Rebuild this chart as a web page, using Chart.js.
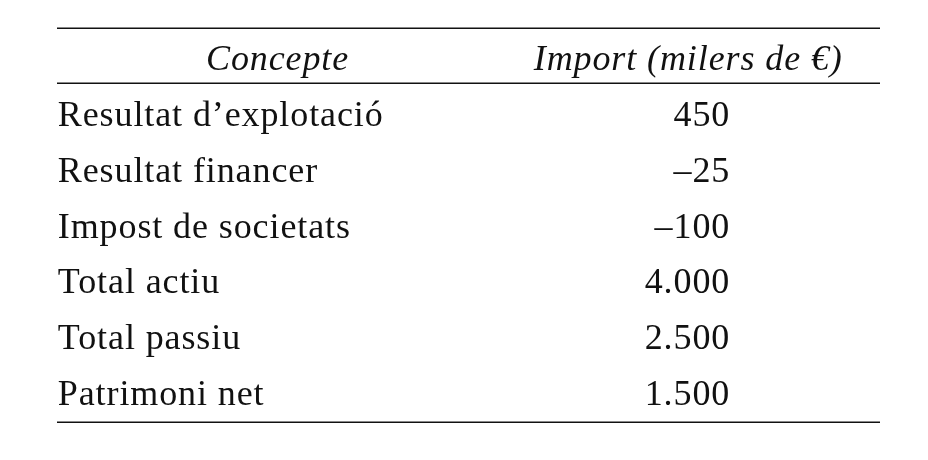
<!DOCTYPE html>
<html>
<head>
<meta charset="utf-8">
<script src="https://cdn.jsdelivr.net/npm/chart.js@4"></script>
<style>
  html, body { margin: 0; padding: 0; background: #fff; }
  #wrap { width: 928px; height: 460px; }
</style>
</head>
<body>
<div id="wrap"><canvas id="table" width="928" height="460"></canvas></div>
<script>
const headers = ['Concepte', 'Import (milers de €)'];
const concepts = [
  'Resultat d\u2019explotació',
  'Resultat financer',
  'Impost de societats',
  'Total actiu',
  'Total passiu',
  'Patrimoni net'
];
const amounts = [450, -25, -100, 4000, 2500, 1500];

// catalan style: dot for thousands, en dash for minus
function fmt(v) {
  const s = String(Math.abs(v)).replace(/\B(?=(\d{3})+(?!\d))/g, '.');
  return (v < 0 ? '\u2013' : '') + s;
}

const FONT = '"Liberation Serif", "DejaVu Serif", serif';
const SIZE = 36;

const tablePlugin = {
  id: 'tablePlugin',
  afterDraw(chart) {
    const ctx = chart.ctx;
    const x = chart.scales.x, y = chart.scales.y;
    ctx.save();
    ctx.fillStyle = '#111';
    ctx.textBaseline = 'alphabetic';
    ctx.letterSpacing = '0.9px';

    // header row (row 0)
    ctx.font = 'italic ' + SIZE + 'px ' + FONT;
    ctx.textAlign = 'center';
    ctx.fillText(headers[0], x.getPixelForValue(0.268), y.getPixelForValue(0));
    ctx.fillText(headers[1], x.getPixelForValue(0.767), y.getPixelForValue(0));

    // body rows
    ctx.font = SIZE + 'px ' + FONT;
    concepts.forEach((c, i) => {
      ctx.textAlign = 'left';
      ctx.fillText(c, x.getPixelForValue(0.001), y.getPixelForValue(i + 1));
    });
    amounts.forEach((v, i) => {
      ctx.textAlign = 'right';
      ctx.fillText(fmt(v), x.getPixelForValue(0.818), y.getPixelForValue(i + 1));
    });

    // rules
    ctx.strokeStyle = '#111';
    ctx.lineWidth = 1.5;
    [y.min, 0.23, y.max].forEach(r => {
      const py = Math.round(y.getPixelForValue(r)) + 0.25;
      ctx.beginPath();
      ctx.moveTo(x.getPixelForValue(0), py);
      ctx.lineTo(x.getPixelForValue(1), py);
      ctx.stroke();
    });
    ctx.restore();
  }
};

new Chart(document.getElementById('table'), {
  type: 'scatter',
  data: {
    datasets: [{
      data: concepts.map((c, i) => ({ x: 0, y: i + 1 })),
      pointRadius: 0
    }]
  },
  options: {
    responsive: false,
    animation: false,
    events: [],
    layout: { padding: { left: 57, right: 48, top: 28, bottom: 38 } },
    plugins: { legend: { display: false }, tooltip: { enabled: false } },
    scales: {
      x: { display: false, min: 0, max: 1 },
      y: { display: false, min: -0.76, max: 6.31, reverse: true }
    }
  },
  plugins: [tablePlugin]
});
</script>
</body>
</html>
